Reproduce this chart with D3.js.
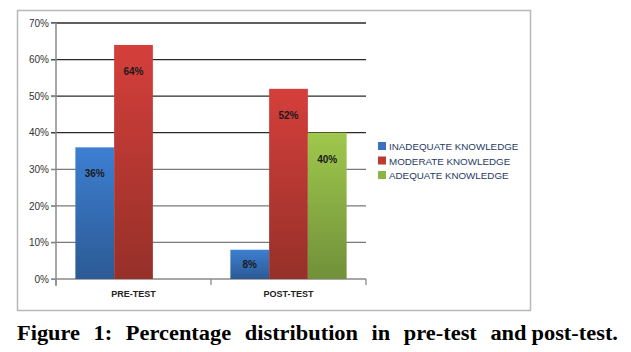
<!DOCTYPE html>
<html>
<head>
<meta charset="utf-8">
<script src="https://cdn.jsdelivr.net/npm/d3@7"></script>
<style>
  body { margin: 0; background: #fff; }
  svg { display: block; }
</style>
</head>
<body>
<svg id="chart" width="631" height="352"></svg>
<script>
const categories = ["PRE-TEST", "POST-TEST"];
const seriesNames = ["INADEQUATE KNOWLEDGE", "MODERATE KNOWLEDGE", "ADEQUATE KNOWLEDGE"];
const inadequate = [36, 8];
const moderate = [64, 52];
const adequate = [0, 40];
const yTicks = [0, 10, 20, 30, 40, 50, 60, 70];
const captionWords = ["Figure", "1:", "Percentage", "distribution", "in", "pre-test", "and", "post-test."];

const seriesValues = [inadequate, moderate, adequate];
const colors = [
  { top: "#3d7fd2", bottom: "#2c5a94", key: "#3a72bf" },
  { top: "#d53f3b", bottom: "#963029", key: "#c0392f" },
  { top: "#9fc84c", bottom: "#71903a", key: "#8db543" }
];

const svg = d3.select("#chart");
const plotLeft = 56, plotRight = 366, plotTop = 23, plotBottom = 279;

// outer chart border
svg.append("rect")
   .attr("x", 17.5).attr("y", 10.5)
   .attr("width", 513).attr("height", 300)
   .attr("fill", "#fff").attr("stroke", "#b8b8b8").attr("stroke-width", 1.5);

const defs = svg.append("defs");
colors.forEach((c, i) => {
  const g = defs.append("linearGradient")
                .attr("id", "grad" + i)
                .attr("x1", 0).attr("y1", 0).attr("x2", 0).attr("y2", 1);
  g.append("stop").attr("offset", "0%").attr("stop-color", c.top);
  g.append("stop").attr("offset", "100%").attr("stop-color", c.bottom);
});

const y = d3.scaleLinear().domain([0, 70]).range([plotBottom, plotTop]);
const x0 = d3.scaleBand().domain(categories).range([plotLeft, plotRight]).paddingInner(0);
const x1 = d3.scaleBand().domain(d3.range(seriesNames.length))
             .range([0, x0.bandwidth()]).paddingInner(0).paddingOuter(0.5);

// gridlines
svg.append("g").selectAll("line")
   .data(yTicks.filter(d => d > 0)).enter()
   .append("line")
   .attr("x1", plotLeft - 5).attr("x2", plotRight)
   .attr("y1", d => y(d)).attr("y2", d => y(d))
   .attr("stroke", d => d >= 40 ? "#2a2a2a" : "#7a7a7a")
   .attr("stroke-width", 1.3);

// y axis
const yAxis = d3.axisLeft(y).tickValues(yTicks).tickFormat(d => d + "%").tickSize(5).tickPadding(2);
const yg = svg.append("g").attr("transform", `translate(${plotLeft},0)`).call(yAxis);
yg.select(".domain").attr("stroke", "#8a8a8a").attr("stroke-width", 1.5)
  .attr("d", `M0,${plotTop}V${plotBottom + 7}`);
yg.selectAll(".tick line").attr("stroke", "#8a8a8a");
yg.selectAll(".tick text")
  .attr("font-family", "Liberation Sans, Arial, sans-serif")
  .attr("font-size", 10).attr("fill", "#333");

// x axis
const xg = svg.append("g").attr("transform", `translate(0,${plotBottom})`);
xg.append("line").attr("x1", plotLeft - 5).attr("x2", plotRight)
  .attr("stroke", "#8a8a8a").attr("stroke-width", 1.3);
xg.selectAll(".xtick")
  .data([plotLeft, ...categories.map(c => x0(c) + x0.bandwidth())]).enter()
  .append("line")
  .attr("x1", d => d).attr("x2", d => d)
  .attr("y1", 0).attr("y2", 6)
  .attr("stroke", "#8a8a8a").attr("stroke-width", 1.3);
xg.selectAll(".xlabel")
  .data(categories).enter()
  .append("text")
  .attr("x", d => x0(d) + x0.bandwidth() / 2)
  .attr("y", 18)
  .attr("text-anchor", "middle")
  .attr("font-family", "Liberation Sans, Arial, sans-serif")
  .attr("font-size", 9).attr("font-weight", "bold").attr("fill", "#222")
  .text(d => d);

// bars
const barData = [];
categories.forEach((cat, ci) => {
  seriesValues.forEach((vals, si) => {
    barData.push({ cat: cat, s: si, v: vals[ci] });
  });
});

svg.append("g").selectAll("rect")
   .data(barData.filter(d => d.v > 0)).enter()
   .append("rect")
   .attr("x", d => x0(d.cat) + x1(d.s))
   .attr("y", d => y(d.v))
   .attr("width", x1.bandwidth())
   .attr("height", d => y(0) - y(d.v))
   .attr("fill", d => `url(#grad${d.s})`);

svg.append("g").selectAll("text")
   .data(barData.filter(d => d.v > 0)).enter()
   .append("text")
   .attr("x", d => x0(d.cat) + x1(d.s) + x1.bandwidth() / 2)
   .attr("y", d => y(d.v) + Math.min(30, (y(0) - y(d.v)) / 2 + 4))
   .attr("text-anchor", "middle")
   .attr("font-family", "Liberation Sans, Arial, sans-serif")
   .attr("font-size", 10).attr("font-weight", "bold").attr("fill", "#1a1a1a")
   .text(d => d.v + "%");

// legend
const legend = svg.append("g").attr("transform", "translate(378,142)");
const items = legend.selectAll("g").data(seriesNames).enter()
   .append("g").attr("transform", (d, i) => `translate(0,${i * 14.5})`);
items.append("rect").attr("width", 8).attr("height", 8)
   .attr("fill", (d, i) => colors[i].key);
items.append("text").attr("x", 11).attr("y", 8)
   .attr("font-family", "Liberation Sans, Arial, sans-serif")
   .attr("font-size", 9.8).attr("fill", "#1f3a63")
   .text(d => d);

// caption, justified across the line (words widened to mimic Cambria)
const cap = svg.append("g");
const words = cap.selectAll("text").data(captionWords).enter()
   .append("text")
   .attr("y", 340)
   .attr("font-family", "Liberation Serif, Times New Roman, serif")
   .attr("font-size", 20).attr("font-weight", "bold").attr("fill", "#000")
   .text(d => d);
const widths = [];
words.each(function () { widths.push(this.getComputedTextLength() * 1.12); });
words.attr("textLength", (d, i) => widths[i]).attr("lengthAdjust", "spacingAndGlyphs");
const capLeft = 17, capRight = 618, lastGap = 5;
const total = d3.sum(widths);
const gap = (capRight - capLeft - total - lastGap) / (captionWords.length - 2);
let cx = capLeft;
words.attr("x", (d, i) => {
  const pos = cx;
  cx += widths[i] + (i === captionWords.length - 2 ? lastGap : gap);
  return pos;
});
</script>
</body>
</html>
